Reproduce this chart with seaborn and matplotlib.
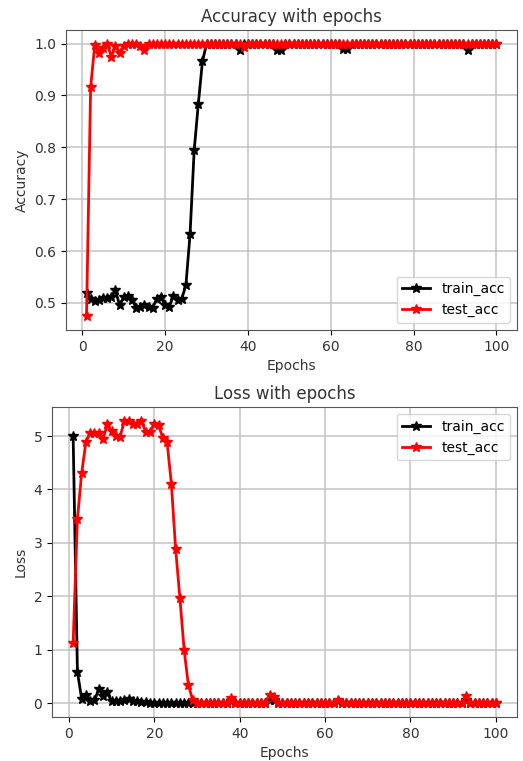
import numpy as np
import pandas as pd
import matplotlib
matplotlib.use("Agg")
import matplotlib.pyplot as plt
import seaborn as sns

epochs = list(range(1, 101))

# accuracy (epochs 1..100)
train_acc_early = [0.52, 0.508, 0.503, 0.506, 0.509, 0.509, 0.511, 0.524, 0.495, 0.511,
                   0.514, 0.506, 0.491, 0.492, 0.495, 0.493, 0.491, 0.508, 0.511, 0.495,
                   0.493, 0.514, 0.505, 0.508, 0.534, 0.632, 0.794, 0.884, 0.966, 1.0]
train_acc_dips = {38: 0.988, 47: 0.988, 48: 0.988, 63: 0.99, 64: 0.99, 93: 0.988}

test_acc_early = [0.474, 0.916, 0.998, 0.982, 0.992, 1.0, 0.975, 0.995, 0.982, 0.995,
                  1.0, 1.0, 1.0, 0.995, 0.988, 1.0]
test_acc_dips = {39: 0.993}

# loss (epochs 1..100)
train_loss_early = [5.0, 0.59, 0.075, 0.16, 0.03, 0.05, 0.26, 0.14, 0.2, 0.03,
                    0.03, 0.04, 0.05, 0.08, 0.04, 0.03, 0.02, 0.02, 0.01, 0.01]
train_loss_bumps = {38: 0.04, 47: 0.06, 48: 0.05, 63: 0.03, 93: 0.05}

test_loss_early = [1.125, 3.44, 4.31, 4.89, 5.06, 5.06, 5.06, 4.94, 5.22, 5.09,
                   5.0, 4.99, 5.28, 5.28, 5.22, 5.22, 5.28, 5.08, 5.08, 5.22,
                   5.2, 4.97, 4.89, 4.11, 2.89, 1.97, 0.99, 0.33, 0.06, 0.01]
test_loss_bumps = {38: 0.09, 47: 0.15, 48: 0.12, 63: 0.06, 93: 0.14}


def build(early, fill, extra):
    vals = list(early) + [fill] * (len(epochs) - len(early))
    for k, v in extra.items():
        vals[k - 1] = v
    return vals


train_acc = build(train_acc_early, 1.0, train_acc_dips)
test_acc = build(test_acc_early, 1.0, test_acc_dips)
train_loss = build(train_loss_early, 0.003, train_loss_bumps)
test_loss = build(test_loss_early, 0.003, test_loss_bumps)

fig = plt.figure(figsize=(5.23, 7.61), dpi=100)
ax1 = fig.add_axes([66 / 523, 1 - 330 / 761, (517 - 66) / 523, 300 / 761])
ax2 = fig.add_axes([52 / 523, 1 - 717 / 761, (517 - 52) / 523, 310 / 761])

TICK = 10
LAB = 10
TIT = 12

for ax, tr, te, title, ylab, loc in [
    (ax1, train_acc, test_acc, "Accuracy with epochs", "Accuracy", "lower right"),
    (ax2, train_loss, test_loss, "Loss with epochs", "Loss", "upper right"),
]:
    for vals, col, lab in [(tr, "black", "train_acc"), (te, "red", "test_acc")]:
        sns.lineplot(x=epochs, y=vals, ax=ax, color=col, label=lab,
                     marker="*", markersize=7, linewidth=2.0,
                     markeredgecolor=col, markerfacecolor=col, markeredgewidth=1)
    ax.grid(True, color="#c4c4c4", linewidth=1.1)
    ax.set_axisbelow(True)
    ax.set_title(title, fontsize=TIT, color="#333333")
    ax.set_xlabel("Epochs", fontsize=LAB, color="#333333")
    ax.set_ylabel(ylab, fontsize=LAB, color="#333333")
    ax.tick_params(labelsize=TICK, labelcolor="#333333")
    ax.set_xticks([0, 20, 40, 60, 80, 100])
    ax.legend(loc=loc, fontsize=TICK)
    for s in ax.spines.values():
        s.set_color("#555555")

ax1.set_yticks([0.5, 0.6, 0.7, 0.8, 0.9, 1.0])
ax2.set_yticks([0, 1, 2, 3, 4, 5])

fig.savefig("out.png", dpi=100)
